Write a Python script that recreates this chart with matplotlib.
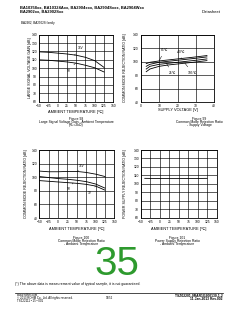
import matplotlib
matplotlib.use("Agg")
import matplotlib.pyplot as plt

plt.rcParams['font.family'] = ['Liberation Sans', 'DejaVu Sans']

# Figure 98 - large signal voltage gain vs ambient temperature
temp1 = [-50, -25, 0, 25, 50, 75, 100, 125]
gain_36v = [119.5, 119, 118, 117, 115.5, 113, 109, 101]
gain_5v = [110, 109.5, 108.5, 107.5, 106, 103.5, 100.5, 95.5]

# Figure 99 - CMRR vs supply voltage
vs = [3, 5, 10, 15, 20, 25, 30, 36]
cmrr_m40 = [97, 99, 101, 102.5, 104, 105.5, 107, 109]
cmrr_85 = [93, 96, 99, 100.5, 102, 103.5, 105, 107]
cmrr_25 = [89, 93, 96, 97.5, 99, 100.5, 102, 104]
cmrr_105 = [85, 89, 93, 95, 96.5, 98, 99.5, 101.5]

# Figure 100 - CMRR vs ambient temperature
temp3 = [-50, -25, 0, 25, 50, 75, 100, 125]
cmrr_36v = [109, 108, 108, 108.5, 108.5, 107, 104.5, 101]
cmrr_5v = [101, 99.5, 98, 97, 95.5, 93.5, 90, 84]
cmrr_3v = [95, 94, 93, 92, 91, 89.5, 87, 81]

# Figure 101 - PSRR vs ambient temperature
temp4 = [-40, 0, 25, 50, 85, 125]
psrr = [106.5, 106.3, 106.2, 106.2, 106.3, 106.5]

temp_ticks = [-50, -25, 0, 25, 50, 75, 100, 125, 150]

W, H = 240, 310
fig = plt.figure(figsize=(W / 100, H / 100), dpi=100)
fig.patch.set_facecolor('white')


def rect(l, r, t, b):
    return [l / W, 1 - b / H, (r - l) / W, (b - t) / H]


def txt(x, y, s, size=2.6, **kw):
    kw.setdefault('ha', 'center')
    kw.setdefault('va', 'center')
    fig.text(x / W, 1 - y / H, s, fontsize=size, **kw)


def panel(r, xlim, xticks, ylim, yticks):
    ax = fig.add_axes(rect(*r))
    ax.set_xlim(*xlim)
    ax.set_ylim(*ylim)
    ax.set_xticks(xticks)
    ax.set_yticks(yticks)
    ax.tick_params(length=0, labelsize=2.4, pad=1.5)
    ax.grid(True, color='black', lw=0.45)
    for s in ax.spines.values():
        s.set_linewidth(0.6)
    return ax


def note(ax, s, xy, xytext):
    ax.annotate(s, xy=xy, xytext=xytext, fontsize=2.3, ha='center', va='center',
                arrowprops=dict(arrowstyle='-', lw=0.35, color='black', shrinkA=1, shrinkB=0))


# header
txt(20, 7, "BA10358xx, BA10324Axx, BA2904xxx, BA2904Sxxx, BA2904Wxx", 2.9, ha='left', weight='bold')
txt(20, 11.5, "BA2902xx, BA2902Sxx", 2.9, ha='left', weight='bold')
txt(221, 12, "Datasheet", 3.0, ha='right')
txt(21, 23, "BA2902, BA2902S family", 2.2, ha='left')

ax1 = panel((39, 113.3, 34.7, 101.7), (-50, 150), temp_ticks, (60, 140), range(60, 141, 10))
ax1.plot(temp1, gain_36v, color='black', lw=0.6)
ax1.plot(temp1, gain_5v, color='black', lw=0.6)
note(ax1, "36V", (45, 115.5), (62, 124))
note(ax1, "5V", (48, 106), (30, 97))

ax2 = panel((140.7, 214.3, 34.7, 102), (0, 40), range(0, 41, 10), (40, 140), range(40, 141, 20))
for c in (cmrr_m40, cmrr_85, cmrr_25, cmrr_105):
    ax2.plot(vs, c, color='black', lw=0.6)
note(ax2, "85℃", (10, 101), (13, 117))
note(ax2, "-40℃", (22, 104.5), (22, 115))
note(ax2, "25℃", (14, 97.5), (17, 83))
note(ax2, "105℃", (24, 97.8), (28, 83.5))

ax3 = panel((39.3, 114.3, 150, 218), (-50, 150), temp_ticks, (40, 140), range(40, 141, 20))
ax3.plot(temp3, cmrr_36v, color='black', lw=0.6)
ax3.plot(temp3, cmrr_5v, color='black', lw=0.6)
ax3.plot(temp3, cmrr_3v, color='black', lw=0.6)
note(ax3, "36V", (52, 108.5), (62, 117))
note(ax3, "5V", (40, 91.5), (28, 83))
note(ax3, "3V", (100, 87), (85, 77))

ax4 = panel((141, 216.7, 150, 217.7), (-50, 150), temp_ticks, (60, 140), range(60, 141, 10))
ax4.plot(temp4, psrr, color='black', lw=0.6)

# axis labels
fig.text(30 / W, 1 - 68 / H, "LARGE SIGNAL VOLTAGE GAIN [dB]", rotation=90,
         fontsize=2.6, ha='center', va='center')
fig.text(125 / W, 1 - 68 / H, "COMMON MODE REJECTION RATIO [dB]", rotation=90,
         fontsize=2.6, ha='center', va='center')
fig.text(26 / W, 1 - 184 / H, "COMMON MODE REJECTION RATIO [dB]", rotation=90,
         fontsize=2.6, ha='center', va='center')
fig.text(125 / W, 1 - 184 / H, "POWER SUPPLY REJECTION RATIO [dB]", rotation=90,
         fontsize=2.6, ha='center', va='center')
txt(76, 112, "AMBIENT TEMPERATURE [℃]", 2.8)
txt(177.5, 110.5, "SUPPLY VOLTAGE [V]", 2.8)
txt(77, 229.3, "AMBIENT TEMPERATURE [℃]", 2.8)
txt(179, 229, "AMBIENT TEMPERATURE [℃]", 2.8)

# captions
for x, y, lines in [
    (76.5, 119, ["Figure 98", "Large Signal Voltage Gain - Ambient Temperature", "(RL=2kΩ)"]),
    (199, 119, ["Figure 99", "Common Mode Rejection Ratio", "- Supply Voltage"]),
    (81.5, 238, ["Figure 100", "Common Mode Rejection Ratio", "- Ambient Temperature"]),
    (177, 238, ["Figure 101", "Power Supply Rejection Ratio", "- Ambient Temperature"]),
]:
    for i, s in enumerate(lines):
        txt(x, y + i * 2.9, s, 2.4)

# page number
txt(117, 264, "35", 29, color='#2e9a2e')

# footnote and footer
txt(15, 284, "(*) The above data is measurement value of typical sample, it is not guaranteed.",
    2.55, ha='left')
fig.add_artist(plt.Line2D([15 / W, 223 / W], [1 - 292.7 / H, 1 - 292.7 / H],
                          color='black', lw=0.5, transform=fig.transFigure))
txt(17, 295.5, "www.rohm.com", 2.1, ha='left')
txt(17, 298.5, "© 2013 ROHM Co., Ltd. All rights reserved.", 2.1, ha='left')
txt(17, 301.5, "TSZ22111 • 15 • 001", 2.1, ha='left')
txt(110, 298, "35/52", 2.1)
txt(223, 295.7, "TSZ02201-0RAR1G200130-1-2", 2.4, ha='right', weight='bold')
txt(223, 299, "11.Jan.2013 Rev.002", 2.4, ha='right', weight='bold')

fig.savefig("out.png", dpi=100, facecolor='white')
